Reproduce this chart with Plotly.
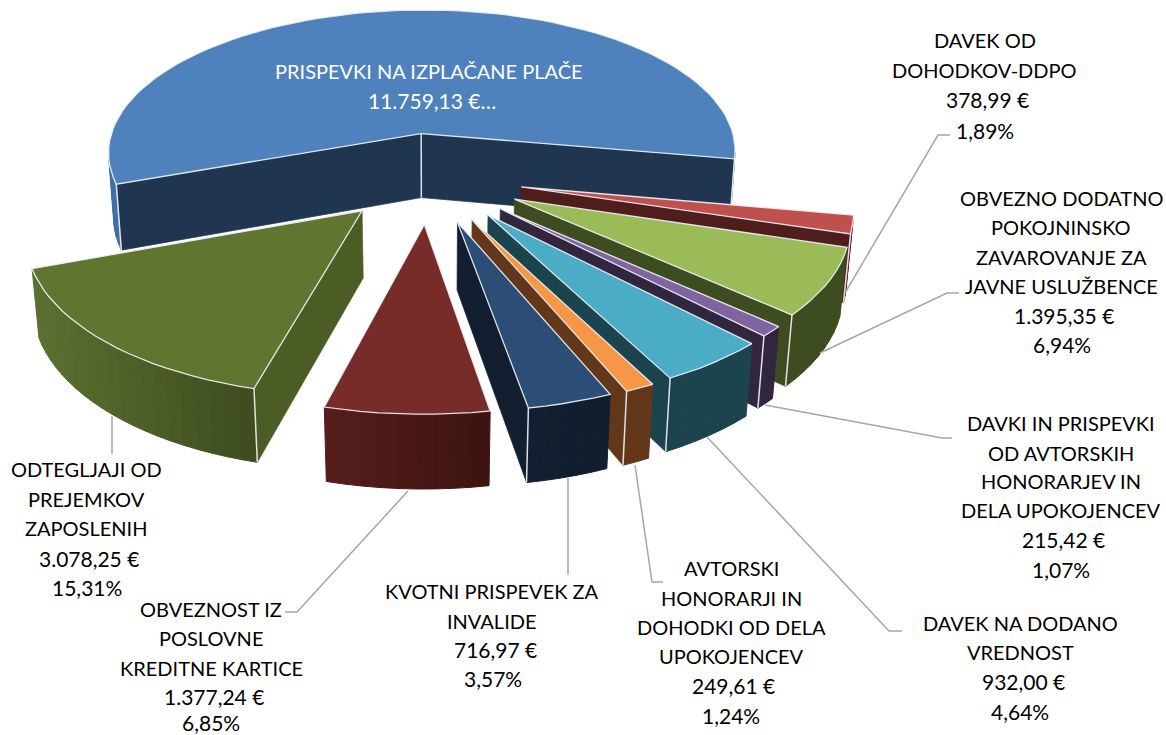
import numpy as np
import plotly.graph_objects as go

categories = ["PRISPEVKI NA IZPLAČANE PLAČE", "DAVEK OD DOHODKOV-DDPO",
              "OBVEZNO DODATNO POKOJNINSKO ZAVAROVANJE ZA JAVNE USLUŽBENCE",
              "DAVKI IN PRISPEVKI OD AVTORSKIH HONORARJEV IN DELA UPOKOJENCEV",
              "DAVEK NA DODANO VREDNOST",
              "AVTORSKI HONORARJI IN DOHODKI OD DELA UPOKOJENCEV",
              "KVOTNI PRISPEVEK ZA INVALIDE", "OBVEZNOST IZ POSLOVNE KREDITNE KARTICE",
              "ODTEGLJAJI OD PREJEMKOV ZAPOSLENIH"]
values = [11759.13, 378.99, 1395.35, 215.42, 932.00, 249.61, 716.97, 1377.24, 3078.25]
top_colors = ['#4F81BD', '#C0504D', '#9BBB59', '#8064A2', '#4BACC6', '#F79646', '#2C4D75', '#772C2A', '#5F7530']
wall_colors = ['#1F3550', '#4F1D1C', '#3E4D20', '#32263F', '#1C444F', '#63381A', '#111F30', '#4A1A18', '#4B5D25']
rim_left = ['#3F6EA8', '#5A2422', '#3E4D20', '#32263F', '#1C444F', '#63381A', '#121F30', '#551D1B', '#5B7030']
rim_right = ['#3F6EA8', '#5A2422', '#3E4D20', '#32263F', '#1C444F', '#63381A', '#111E2E', '#3E1411', '#3F4D20']
explode = [0.2976, 0.2922, 0.2995, 0.3001, 0.3052, 0.3063, 0.3046, 0.3065, 0.2979]

# camera: homography from pie coordinates (u, v, depth) to the page
CAM = [428.8394, 176.4960, 320.1180, -42.8860, 0.0435, -20.7303, -149.1247, 66.8990, 0.0152, 0.1315, 0.0162]
START_ANGLE = -102.4098
EDGE = 'rgba(238,241,244,0.92)'
LEADER = '#A6A6A6'
FONT = 'Lato'
TEXT_SIZE = 20
NUMBER_SIZE = 21

labels = [
    ([429, 432], ["PRISPEVKI NA IZPLAČANE PLAČE", "11.759,13 €…"], [71, 100], 'white'),
    ([985, 984, 987, 985], ["DAVEK OD", "DOHODKOV-DDPO", "378,99 €", "1,89%"], [40, 70, 99, 130], 'black'),
    ([1061, 1061, 1061, 1061, 1064, 1062],
     ["OBVEZNO DODATNO", "POKOJNINSKO", "ZAVAROVANJE ZA", "JAVNE USLUŽBENCE", "1.395,35 €", "6,94%"],
     [198, 227, 257, 286, 315, 344], 'black'),
    ([1061, 1061, 1061, 1061, 1063, 1061],
     ["DAVKI IN PRISPEVKI", "OD AVTORSKIH", "HONORARJEV IN", "DELA UPOKOJENCEV", "215,42 €", "1,07%"],
     [423, 453, 481, 510, 539, 569], 'black'),
    ([1020, 1020, 1023, 1020], ["DAVEK NA DODANO", "VREDNOST", "932,00 €", "4,64%"], [623, 652, 681, 711], 'black'),
    ([731, 731, 731, 731, 733, 731],
     ["AVTORSKI", "HONORARJI IN", "DOHODKI OD DELA", "UPOKOJENCEV", "249,61 €", "1,24%"],
     [568, 598, 627, 656, 685, 715], 'black'),
    ([492, 492, 495, 493], ["KVOTNI PRISPEVEK ZA", "INVALIDE", "716,97 €", "3,57%"], [591, 621, 649, 678], 'black'),
    ([211, 211, 211, 214, 211], ["OBVEZNOST IZ", "POSLOVNE", "KREDITNE KARTICE", "1.377,24 €", "6,85%"],
     [609, 638, 668, 696, 722], 'black'),
    ([86, 86, 86, 89, 87], ["ODTEGLJAJI OD", "PREJEMKOV", "ZAPOSLENIH", "3.078,25 €", "15,31%"],
     [469, 499, 528, 558, 587], 'black'),
]
leaders = [
    ([845, 938, 950], [293, 135, 135]),
    ([820, 947, 959], [353, 293, 293]),
    ([765, 942, 952], [405, 438, 438]),
    ([707, 889, 902], [437, 631, 631]),
    ([635, 652, 663], [465, 582, 582]),
    ([568, 568], [478, 575]),
    ([408, 297, 285], [491, 612, 612]),
    ([112, 112], [416, 454]),
]


def proj(u, w, z):
    p = CAM
    W = 1 + p[8] * u + p[9] * w + p[10] * z
    return p[0] + (p[2] * u + p[3] * w + p[4] * z) / W, p[1] + (p[5] * u + p[6] * w + p[7] * z) / W


def area(xs, ys):
    return sum(xs[i] * ys[(i + 1) % len(xs)] - xs[(i + 1) % len(xs)] * ys[i] for i in range(len(xs)))


def rgb(h):
    return np.array([int(h[i:i + 2], 16) for i in (1, 3, 5)], float)


def mix(a, b, t):
    c = rgb(a) * (1 - t) + rgb(b) * t
    return f'rgb({c[0]:.0f},{c[1]:.0f},{c[2]:.0f})'


fig = go.Figure()


def poly(xs, ys, col, line=None, lw=0.7):
    fig.add_trace(go.Scatter(x=list(xs) + [xs[0]], y=list(ys) + [ys[0]], mode='lines', fill='toself', fillcolor=col,
                             line=dict(color=line or col, width=lw), hoverinfo='skip'))


def seg(xs, ys, col=EDGE, lw=1.5):
    fig.add_trace(go.Scatter(x=list(xs), y=list(ys), mode='lines', line=dict(color=col, width=lw), hoverinfo='skip'))


v = np.array(values)
cum = np.concatenate([[0], np.cumsum(v) / v.sum() * 360])

for s in range(len(values)):
    a0, a1 = START_ANGLE + cum[s], START_ANGLE + cum[s + 1]
    mid = np.radians((a0 + a1) / 2)
    ox, oy = explode[s] * np.sin(mid), explode[s] * np.cos(mid)
    n = max(3, int((a1 - a0) / 2.5))
    t = np.radians(np.linspace(a0, a1, n + 1))
    us, ws = ox + np.sin(t), oy + np.cos(t)
    tx, ty = proj(us, ws, 0)
    bx, by = proj(us, ws, 1)
    ax, ay = proj(ox, oy, 0)
    cx, cy = proj(ox, oy, 1)

    # radial walls
    sv = area([ax, tx[0], bx[0], cx], [ay, ty[0], by[0], cy]) < 0
    ev = area([ax, tx[-1], bx[-1], cx], [ay, ty[-1], by[-1], cy]) > 0
    if sv:
        poly([ax, tx[0], bx[0], cx], [ay, ty[0], by[0], cy], wall_colors[s])
    if ev:
        poly([ax, tx[-1], bx[-1], cx], [ay, ty[-1], by[-1], cy], wall_colors[s])
    # outer rim wall: shaded strips, only the ones that face the viewer
    vis = [area([tx[i], tx[i + 1], bx[i + 1], bx[i]], [ty[i], ty[i + 1], by[i + 1], by[i]]) < 0 for i in range(n)]
    idx = [i for i in range(n) if vis[i]]
    if idx:
        lo, hi = min(tx[i] for i in idx), max(tx[i] for i in idx)
        for i in sorted(idx, key=lambda k: tx[k]):
            f = 0 if hi == lo else float(np.clip((tx[i] - lo) / (hi - lo), 0, 1))
            poly([tx[i], tx[i + 1], bx[i + 1], bx[i]], [ty[i], ty[i + 1], by[i + 1], by[i]],
                 mix(rim_left[s], rim_right[s], f), lw=1.0)
    # vertical edges between two visible faces
    if sv and ev:
        seg([ax, cx], [ay, cy])
    if sv and vis[0]:
        seg([tx[0], bx[0]], [ty[0], by[0]])
    if ev and vis[-1]:
        seg([tx[-1], bx[-1]], [ty[-1], by[-1]])
    # top face
    poly([ax] + list(tx), [ay] + list(ty), top_colors[s], line=EDGE, lw=1.3)

for lx, ly in leaders:
    seg(lx, ly, LEADER, 1.5)

ann = []
for xs, lines, ys, col in labels:
    for x, text, y in zip(xs, lines, ys):
        size = NUMBER_SIZE if any(ch.isdigit() for ch in text) else TEXT_SIZE
        ann.append(dict(x=x, y=y, xref='x', yref='y', xanchor='center', yanchor='middle', showarrow=False, text=text,
                        font=dict(family=FONT, size=size, color=col)))

fig.update_xaxes(range=[0, 1166], visible=False, fixedrange=True)
fig.update_yaxes(range=[735, 0], visible=False, fixedrange=True)
fig.update_layout(width=1166, height=735, margin=dict(l=0, r=0, t=0, b=0), showlegend=False,
                  plot_bgcolor='white', paper_bgcolor='white', annotations=ann)
fig.write_html('out.html', config=dict(displayModeBar=False),
               post_script="document.body.style.margin='0';document.body.style.overflow='hidden';")
